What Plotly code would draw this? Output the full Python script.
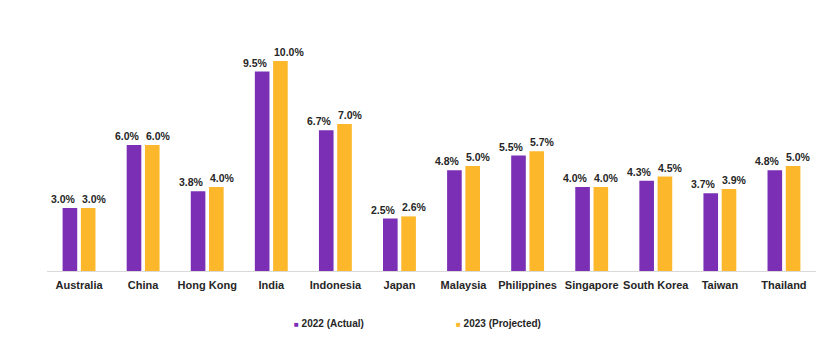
import plotly.graph_objects as go

categories = ["Australia", "China", "Hong Kong", "India", "Indonesia", "Japan",
              "Malaysia", "Philippines", "Singapore", "South Korea", "Taiwan", "Thailand"]
actual_2022 = [3.0, 6.0, 3.8, 9.5, 6.7, 2.5, 4.8, 5.5, 4.0, 4.3, 3.7, 4.8]
projected_2023 = [3.0, 6.0, 4.0, 10.0, 7.0, 2.6, 5.0, 5.7, 4.0, 4.5, 3.9, 5.0]
series_names = ["2022 (Actual)", "2023 (Projected)"]
series_colors = ["#7B2FB5", "#FDB72A"]

font_family = "Liberation Sans, Arial, sans-serif"
label_font = dict(family=font_family, size=10.5, color="#262626", weight="bold")

fig = go.Figure()
for name, vals, col in zip(series_names, [actual_2022, projected_2023], series_colors):
    fig.add_trace(go.Bar(
        x=categories, y=vals, name=name, showlegend=False,
        marker=dict(color=col, line=dict(width=0)),
    ))

# value labels, spread apart like the reference
for vals, anchor, shift in [(actual_2022, "right", -1.5), (projected_2023, "left", 0.5)]:
    for c, v in zip(categories, vals):
        fig.add_annotation(
            x=c, y=v, xref="x", yref="y", text=f"{v:.1f}%", showarrow=False,
            xanchor=anchor, yanchor="bottom", xshift=shift, yshift=1,
            font=label_font,
        )

# legend-only entries: small coloured square glyph + label
for name, col in zip(series_names, series_colors):
    fig.add_trace(go.Scatter(
        x=[None], y=[None], mode="markers",
        name=f"<span style='color:{col};font-size:8px'>■</span> {name}",
        marker=dict(symbol="square", size=1, color="rgba(0,0,0,0)"),
        showlegend=True,
    ))

fig.update_layout(
    width=830, height=346,
    margin=dict(l=47, r=14, t=19, b=75, autoexpand=False),
    paper_bgcolor="white", plot_bgcolor="white",
    barmode="group", bargap=0.43, bargroupgap=0.2,
    font=dict(family=font_family, color="#262626"),
    showlegend=True,
    legend=dict(
        orientation="h", xref="container", yref="container",
        x=254 / 830, xanchor="left", y=1 - 323 / 346, yanchor="middle",
        font=dict(family=font_family, size=10, color="#262626", weight="bold"),
        entrywidth=117, entrywidthmode="pixels", itemwidth=30,
        traceorder="normal", bgcolor="rgba(0,0,0,0)",
    ),
    xaxis=dict(
        showline=True, linecolor="#D9D9D9", linewidth=1,
        ticks="outside", ticklen=4, tickcolor="rgba(0,0,0,0)", showgrid=False,
        tickfont=dict(family=font_family, size=11, color="#262626", weight="bold"),
    ),
    yaxis=dict(
        range=[0, 12], visible=False, showgrid=False, zeroline=False,
    ),
)

fig.write_html("out.html")
